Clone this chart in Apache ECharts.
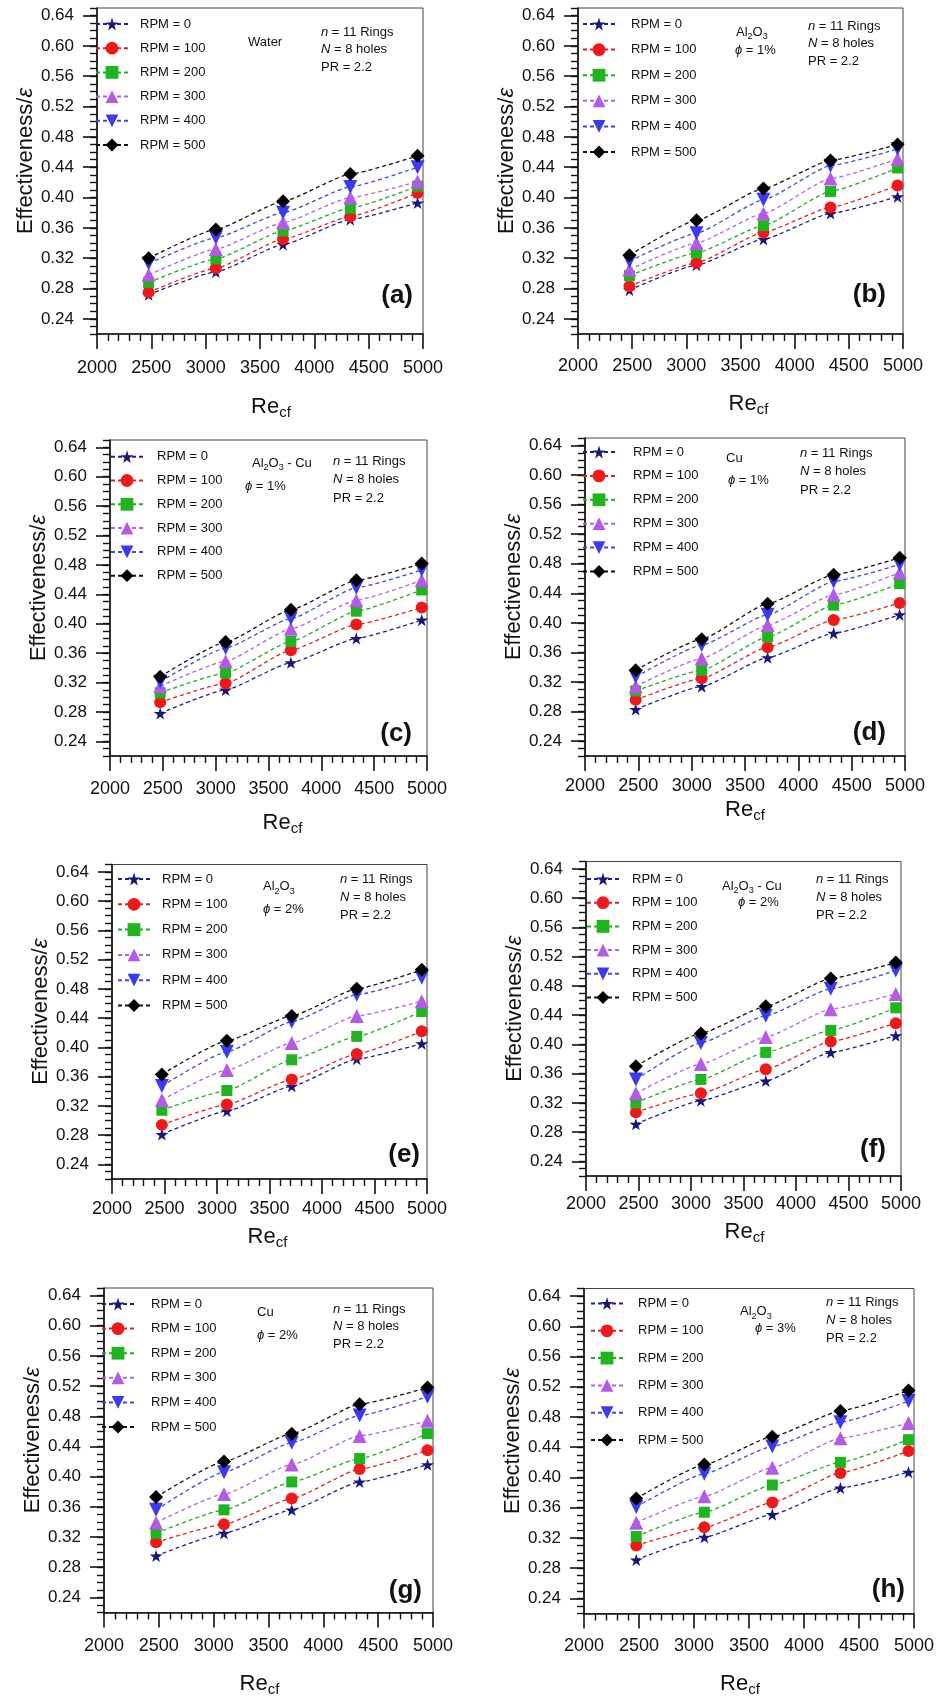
<!DOCTYPE html>
<html>
<head>
<meta charset="utf-8">
<script src="https://cdn.jsdelivr.net/npm/echarts@6/dist/echarts.min.js"></script>
<style>
  html, body { margin: 0; padding: 0; background: #fff; }
  #chart { width: 946px; height: 1698px; }
</style>
</head>
<body>
<div id="chart"></div>
<script>
// Re_cf positions of the measured points
const reValues = [2475, 3094, 3712, 4331, 4950];
const rpmNames = ['RPM = 0', 'RPM = 100', 'RPM = 200', 'RPM = 300', 'RPM = 400', 'RPM = 500'];
const yMajorTicks = [0.24, 0.28, 0.32, 0.36, 0.40, 0.44, 0.48, 0.52, 0.56, 0.60, 0.64];

// effectiveness, one row per RPM (0..500)
const waterEff = [
  [0.272, 0.302, 0.338, 0.371, 0.393],
  [0.275, 0.307, 0.345, 0.375, 0.406],
  [0.288, 0.319, 0.356, 0.386, 0.415],
  [0.298, 0.332, 0.367, 0.400, 0.421],
  [0.313, 0.347, 0.380, 0.414, 0.440],
  [0.320, 0.358, 0.395, 0.431, 0.455]
];
const al2o3Eff1 = [
  [0.278, 0.311, 0.345, 0.379, 0.401],
  [0.283, 0.314, 0.354, 0.387, 0.416],
  [0.297, 0.327, 0.363, 0.408, 0.439],
  [0.305, 0.340, 0.379, 0.425, 0.451],
  [0.316, 0.353, 0.397, 0.442, 0.464],
  [0.324, 0.370, 0.412, 0.449, 0.470]
];
const hybridEff1 = [
  [0.278, 0.310, 0.347, 0.380, 0.405],
  [0.293, 0.319, 0.364, 0.399, 0.422],
  [0.306, 0.333, 0.376, 0.417, 0.446],
  [0.315, 0.349, 0.393, 0.432, 0.459],
  [0.321, 0.367, 0.407, 0.449, 0.473],
  [0.328, 0.375, 0.419, 0.459, 0.482]
];
const cuEff1 = [
  [0.283, 0.314, 0.353, 0.386, 0.411],
  [0.296, 0.325, 0.367, 0.404, 0.427],
  [0.308, 0.336, 0.381, 0.424, 0.453],
  [0.314, 0.352, 0.397, 0.438, 0.468],
  [0.327, 0.370, 0.411, 0.456, 0.479],
  [0.336, 0.378, 0.426, 0.465, 0.488]
];
const al2o3Eff2 = [
  [0.281, 0.313, 0.347, 0.384, 0.405],
  [0.294, 0.322, 0.356, 0.391, 0.422],
  [0.314, 0.341, 0.383, 0.415, 0.449],
  [0.328, 0.369, 0.406, 0.443, 0.463],
  [0.347, 0.394, 0.435, 0.472, 0.495],
  [0.363, 0.409, 0.443, 0.480, 0.506]
];
const hybridEff2 = [
  [0.291, 0.323, 0.350, 0.389, 0.412],
  [0.307, 0.333, 0.366, 0.404, 0.429],
  [0.320, 0.352, 0.389, 0.419, 0.450],
  [0.333, 0.373, 0.410, 0.448, 0.469],
  [0.352, 0.402, 0.439, 0.476, 0.501],
  [0.370, 0.415, 0.452, 0.490, 0.512]
];
const cuEff2 = [
  [0.295, 0.325, 0.356, 0.393, 0.416],
  [0.313, 0.337, 0.371, 0.410, 0.435],
  [0.325, 0.356, 0.393, 0.424, 0.457],
  [0.339, 0.377, 0.416, 0.454, 0.474],
  [0.356, 0.406, 0.445, 0.481, 0.506],
  [0.373, 0.420, 0.457, 0.496, 0.518]
];
const al2o3Eff3 = [
  [0.291, 0.321, 0.351, 0.386, 0.407],
  [0.310, 0.334, 0.367, 0.406, 0.435],
  [0.322, 0.354, 0.390, 0.420, 0.450],
  [0.340, 0.375, 0.413, 0.452, 0.472],
  [0.361, 0.405, 0.441, 0.473, 0.501],
  [0.372, 0.417, 0.454, 0.488, 0.515]
];

const panelData = [waterEff, al2o3Eff1, hybridEff1, cuEff1, al2o3Eff2, hybridEff2, cuEff2, al2o3Eff3];
const panelTags = ['(a)', '(b)', '(c)', '(d)', '(e)', '(f)', '(g)', '(h)'];
const panelFluids = [
  'Water',
  '{t|Al}{s|2}{t|O}{s|3}',
  '{t|Al}{s|2}{t|O}{s|3}{t| - Cu}',
  'Cu',
  '{t|Al}{s|2}{t|O}{s|3}',
  '{t|Al}{s|2}{t|O}{s|3}{t| - Cu}',
  'Cu',
  '{t|Al}{s|2}{t|O}{s|3}'
];
const panelPhi = ['', '1%', '1%', '1%', '2%', '2%', '2%', '3%'];

// plot boxes and text placement (pixels)
const layout = [
  { box: [97, 8, 423, 334],        mat: [151, 34], phi: null,      info: [224, 24, 17.5], tag: [10, 38],   leg: [14, 16, 24.2, 42], xGap: 62, xShift: 11,  lblGap: 25 },
  { box: [578, 8, 903, 334],       mat: [158, 24], phi: [157, 42], info: [230, 18, 17.5], tag: [17, 39],   leg: [20, 16, 25.6, 52], xGap: 59, xShift: 8,   lblGap: 23 },
  { box: [110, 440, 427, 756],     mat: [142, 23], phi: [135, 46], info: [223, 21, 18.5], tag: [15, 22],   leg: [16, 16.7, 23.8, 46], xGap: 56, xShift: 14, lblGap: 24 },
  { box: [585, 438, 905, 756],     mat: [141, 20], phi: [143, 42], info: [215, 15, 18.5], tag: [19, 23],   leg: [13, 14, 23.9, 47], xGap: 43, xShift: 0,   lblGap: 21 },
  { box: [112, 864.5, 427, 1179],  mat: [151, 22], phi: [151, 45], info: [228, 14.5, 18.3], tag: [7, 24], leg: [21, 14.5, 25.3, 49], xGap: 47, xShift: -2, lblGap: 21 },
  { box: [586, 861.5, 901, 1176],  mat: [136, 24.5], phi: [152, 41], info: [230, 17.5, 18.3], tag: [15, 26], leg: [16, 17.5, 23.7, 45], xGap: 45, xShift: 1, lblGap: 19 },
  { box: [104, 1288, 433, 1618.5], mat: [153, 24], phi: [153, 47], info: [229, 21, 17.5], tag: [11, 28],   leg: [13, 16, 24.6, 46], xGap: 60, xShift: -9,  lblGap: 25 },
  { box: [584, 1288.5, 914, 1618], mat: [156, 23], phi: [171, 40], info: [242, 14, 18], tag: [9, 28],      leg: [22, 15, 27.3, 53], xGap: 59, xShift: -9,  lblGap: 24 }
];

const FONT = '"Liberation Sans", Arial, Helvetica, sans-serif';
const starPath = 'path://M50,0 L61,35 L98,35 L68,57 L79,91 L50,70 L21,91 L32,57 L2,35 L39,35 Z';
const marks = [
  { symbol: starPath,   size: 13, rotate: 0,   fill: '#16167e', line: '#1f1f86' },
  { symbol: 'circle',   size: 12, rotate: 0,   fill: '#f01818', line: '#e02222' },
  { symbol: 'rect',     size: 11, rotate: 0,   fill: '#1fb51f', line: '#22aa22' },
  { symbol: 'triangle', size: 14, rotate: 0,   fill: '#b45ae6', line: '#b064de' },
  { symbol: 'triangle', size: 14, rotate: 180, fill: '#3a3af2', line: '#4646d8' },
  { symbol: 'diamond',  size: 14, rotate: 0,   fill: '#000000', line: '#111111' }
];

const grids = [], xAxes = [], yAxes = [], series = [], legends = [], graphics = [];
const LEG_H = 16;

layout.forEach((p, i) => {
  const [L, T, R, B] = p.box;
  grids.push({ left: L, top: T, width: R - L, height: B - T, show: true, borderColor: '#444', borderWidth: 1, containLabel: false });

  xAxes.push({
    type: 'value', gridIndex: i, min: 2000, max: 5000, interval: 500,
    name: '{a|Re}{b|cf}', nameLocation: 'middle', nameGap: p.xGap,
    nameTextStyle: {
      padding: [0, 0, 0, p.xShift * 2],
      rich: {
        a: { fontSize: 22, fontFamily: FONT, color: '#111' },
        b: { fontSize: 15, fontFamily: FONT, color: '#111', padding: [12, 0, 0, 0], lineHeight: 15 }
      }
    },
    axisLine: { onZero: false, lineStyle: { color: '#111', width: 1.6 } },
    axisTick: { length: 15, lineStyle: { color: '#111', width: 1.6 } },
    minorTick: { show: true, splitNumber: 5, length: 7, lineStyle: { color: '#111', width: 1.4 } },
    axisLabel: {
      fontSize: 18, fontFamily: FONT, color: '#111', margin: p.lblGap,
      showMinLabel: true, showMaxLabel: true,
      formatter: v => String(Math.round(v))
    },
    splitLine: { show: false }
  });

  yAxes.push({
    type: 'value', gridIndex: i, position: 'left', min: 0.22, max: 0.65, interval: 0.01,
    name: 'Effectiveness/{e|ε}', nameLocation: 'middle', nameGap: 59,
    nameTextStyle: {
      fontSize: 22, fontFamily: FONT, color: '#111', padding: [0, 0, 0, 20],
      rich: { e: { fontSize: 22, fontFamily: FONT, fontStyle: 'italic', color: '#111' } }
    },
    axisLine: { onZero: false, lineStyle: { color: '#111', width: 1.6 } },
    axisTick: { length: 7, lineStyle: { color: '#111', width: 1.4 } },
    axisLabel: {
      fontSize: 17, fontFamily: FONT, color: '#111', margin: 23,
      formatter: v => {
        const c = Math.round(v * 100);
        return (c % 4 === 0 && c >= 24 && c <= 64) ? (c / 100).toFixed(2) : '';
      }
    },
    splitLine: { show: false }
  });
  yAxes.push({
    type: 'value', gridIndex: i, position: 'left', min: 0.22, max: 0.65,
    axisLine: { show: false },
    axisTick: { show: true, length: 14, customValues: yMajorTicks, lineStyle: { color: '#111', width: 1.6 } },
    axisLabel: { show: false },
    splitLine: { show: false }
  });

  panelData[i].forEach((row, k) => {
    const m = marks[k];
    series.push({
      type: 'line', name: rpmNames[k], xAxisIndex: i, yAxisIndex: 2 * i,
      data: reValues.map((re, j) => [re, row[j]]),
      smooth: 0.15, smoothMonotone: 'x',
      symbol: m.symbol, symbolSize: m.size, symbolRotate: m.rotate, symbolKeepAspect: true,
      itemStyle: { color: m.fill, borderWidth: 0 },
      lineStyle: { color: m.line, width: 1.3, type: [4, 3] },
      z: 3 + k
    });
  });

  const [mdx, ldy, lstep, tdx] = p.leg;
  const legLeft = L + mdx - 16;
  legends.push({
    orient: 'vertical', left: legLeft, top: T + ldy - LEG_H / 2, padding: 0,
    itemWidth: 32, itemHeight: LEG_H, itemGap: lstep - LEG_H,
    selectedMode: false, data: rpmNames,
    textStyle: {
      fontSize: 13, lineHeight: LEG_H, height: LEG_H, fontFamily: FONT, color: '#111',
      padding: [0, 0, 0, tdx - (legLeft - L) - 37]
    }
  });

  const baseTxt = { fontSize: 13, fontFamily: FONT, fill: '#111', verticalAlign: 'middle', align: 'left' };
  const rich13 = {
    t: { fontSize: 13, fontFamily: FONT, color: '#111' },
    s: { fontSize: 9, fontFamily: FONT, color: '#111', padding: [10, 0, 0, 0], lineHeight: 9 },
    i: { fontSize: 13, fontFamily: FONT, fontStyle: 'italic', color: '#111' },
    n: { fontSize: 13, fontFamily: FONT, color: '#111' }
  };
  graphics.push({ type: 'text', x: L + p.mat[0], y: T + p.mat[1], style: Object.assign({ text: panelFluids[i], rich: rich13 }, baseTxt) });
  if (p.phi) {
    graphics.push({ type: 'text', x: L + p.phi[0], y: T + p.phi[1], style: Object.assign({ text: '{i|ϕ}{n| = ' + panelPhi[i] + '}', rich: rich13 }, baseTxt) });
  }
  const infoLines = ['{i|n}{n| = 11 Rings}', '{i|N}{n| = 8 holes}', '{n|PR = 2.2}'];
  infoLines.forEach((txt, r) => {
    graphics.push({ type: 'text', x: L + p.info[0], y: T + p.info[1] + r * p.info[2], style: Object.assign({ text: txt, rich: rich13 }, baseTxt) });
  });
  graphics.push({
    type: 'text', x: R - p.tag[0], y: B - p.tag[1],
    style: { text: panelTags[i], fontSize: 26, fontWeight: 'bold', fontFamily: FONT, fill: '#111', align: 'right', verticalAlign: 'middle' }
  });
});

const chart = echarts.init(document.getElementById('chart'));
chart.setOption({
  animation: false,
  backgroundColor: '#fff',
  grid: grids,
  xAxis: xAxes,
  yAxis: yAxes,
  legend: legends,
  series: series,
  graphic: graphics
});
</script>
</body>
</html>
